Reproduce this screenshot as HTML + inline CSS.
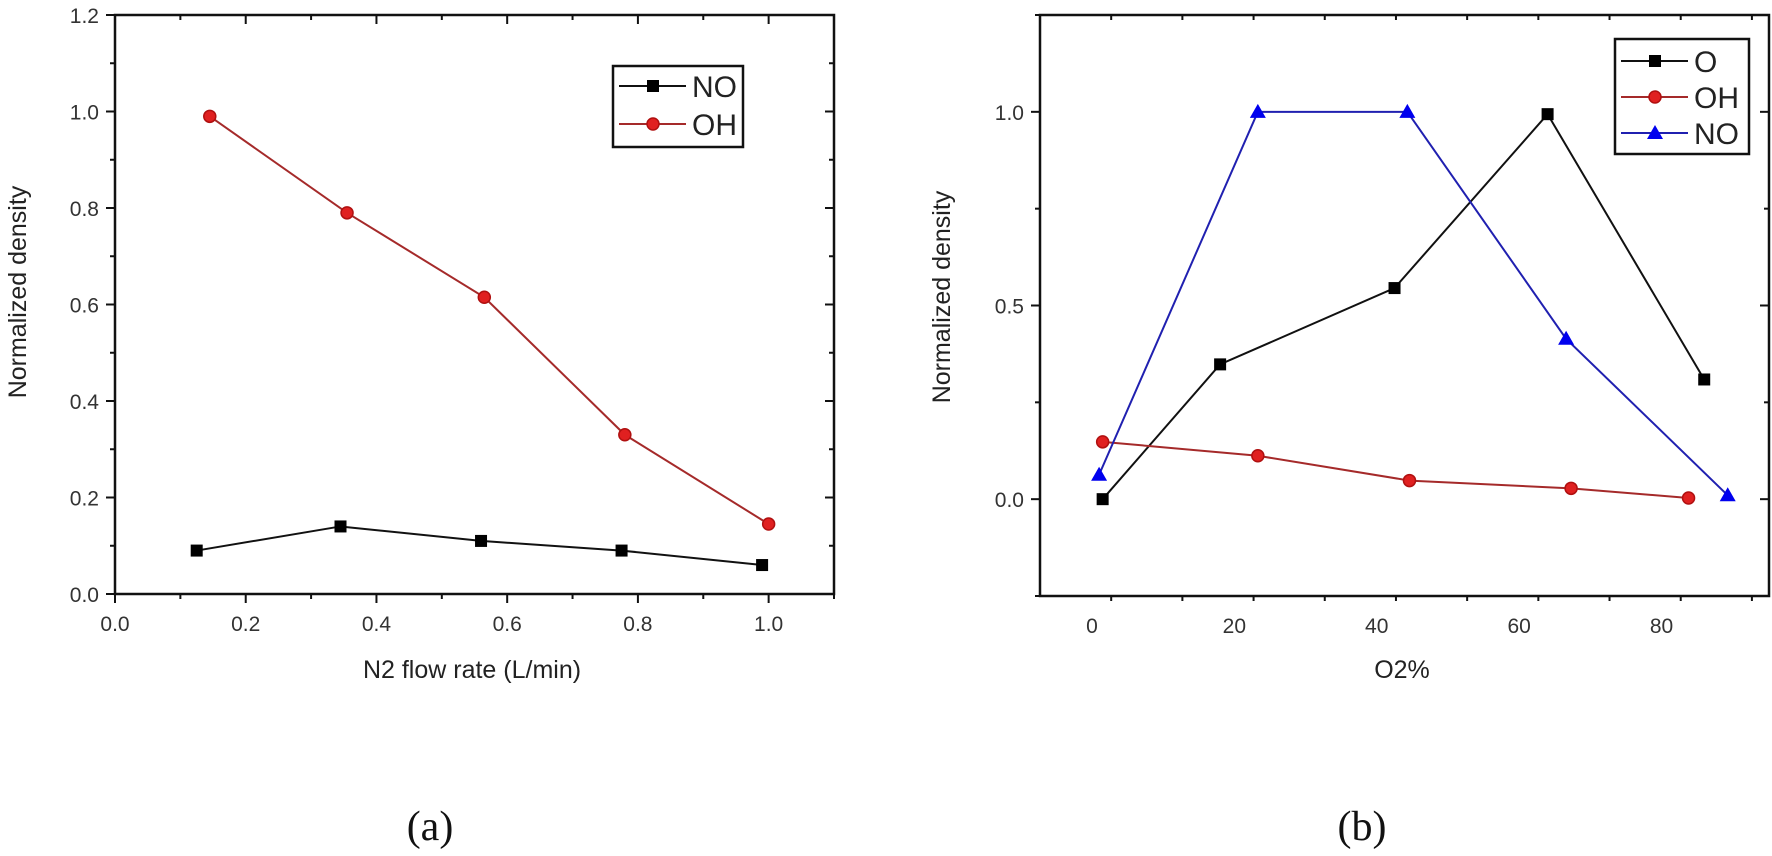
<!DOCTYPE html>
<html><head><meta charset="utf-8"><style>
html,body{margin:0;padding:0;background:#fff;}
svg{display:block;font-family:"Liberation Sans",sans-serif;}
</style></head><body>
<svg id="fig" width="1772" height="856" viewBox="0 0 1772 856"></svg>
<script>
// Panel (a) data
const aNOx = [0.125, 0.345, 0.56, 0.775, 0.99];
const aNOy = [0.09, 0.14, 0.11, 0.09, 0.06];
const aOHx = [0.145, 0.355, 0.565, 0.78, 1.0];
const aOHy = [0.99, 0.79, 0.615, 0.33, 0.145];
const aXTicks = [0.0, 0.2, 0.4, 0.6, 0.8, 1.0];
const aXTickLabels = ["0.0", "0.2", "0.4", "0.6", "0.8", "1.0"];
const aYTicks = [0.0, 0.2, 0.4, 0.6, 0.8, 1.0, 1.2];
const aYTickLabels = ["0.0", "0.2", "0.4", "0.6", "0.8", "1.0", "1.2"];
// Panel (b) data
const bOx = [1.5, 18, 42.5, 64, 86];
const bOy = [0.0, 0.348, 0.545, 0.994, 0.309];
const bOHx = [1.5, 23.3, 44.6, 67.3, 83.8];
const bOHy = [0.148, 0.112, 0.048, 0.028, 0.003];
const bNOx = [1, 23.3, 44.3, 66.6, 89.3];
const bNOy = [0.063, 1.0, 1.0, 0.414, 0.01];
const bXTicks = [0, 20, 40, 60, 80];
const bXTickLabels = ["0", "20", "40", "60", "80"];
const bYTicks = [0.0, 0.5, 1.0];
const bYTickLabels = ["0.0", "0.5", "1.0"];

const NS = "http://www.w3.org/2000/svg";
const svg = document.getElementById("fig");
function mk(tag, attrs, parent) {
  const e = document.createElementNS(NS, tag);
  for (const k in attrs) e.setAttribute(k, attrs[k]);
  (parent || svg).appendChild(e);
  return e;
}

function panel(cfg) {
  const g = mk("g", {});
  
  
  const L = cfg.L, R = cfg.R, T = cfg.T, B = cfg.B;
  const sx = v => L + (v - cfg.xmin) / (cfg.xmax - cfg.xmin) * (R - L);
  const sy = v => B - (v - cfg.ymin) / (cfg.ymax - cfg.ymin) * (B - T);
  const frame = mk("rect", {x: L, y: T, width: R - L, height: B - T, fill: "none", stroke: "#111", "stroke-width": 2.5}, g);
  
  
  // x ticks
  for (let v = cfg.xmin; v <= cfg.xmax + 1e-9; v += cfg.xminor) {
    const rv = Math.round(v / cfg.xminor);
    const major = rv % 2 === 0 ? (Math.abs(v - Math.round(v / cfg.xmajor) * cfg.xmajor) < 1e-6) : false;
    if (v < cfg.xmin + 1e-9 && cfg.skipFirstX) continue;
    const len = major ? 9 : 5;
    const x = sx(v);
    mk("line", {x1: x, x2: x, y1: B, y2: B + len, stroke: "#111", "stroke-width": 2}, g);
    mk("line", {x1: x, x2: x, y1: T, y2: T + len, stroke: "#111", "stroke-width": 2}, g);
  }
  cfg.xt.forEach((v, i) => {
    const t = mk("text", {x: sx(v), y: B + 37, "text-anchor": "middle", "font-size": 21, fill: "#333"}, g);
    t.textContent = cfg.xtl[i];
    
    
  });
  for (let v = cfg.ymin; v <= cfg.ymax + 1e-9; v += cfg.yminor) {
    const major = Math.abs(v / cfg.ymajor - Math.round(v / cfg.ymajor)) < 1e-6;
    const len = major ? 9 : 5;
    const y = sy(v);
    mk("line", {x1: L - len, x2: L, y1: y, y2: y, stroke: "#111", "stroke-width": 2}, g);
    mk("line", {x1: R - len, x2: R, y1: y, y2: y, stroke: "#111", "stroke-width": 2}, g);
  }
  cfg.yt.forEach((v, i) => {
    const t = mk("text", {x: L - 16, y: sy(v) + 8, "text-anchor": "end", "font-size": 21, fill: "#333"}, g);
    t.textContent = cfg.ytl[i];
    
    
  });
  const xl = mk("text", {x: cfg.xlx, y: 678, "text-anchor": "middle", "font-size": 25, fill: "#222"}, g);
  xl.textContent = cfg.xlabel;
  
  
  const yl = mk("text", {x: 0, y: 0, "text-anchor": "middle", "font-size": 25, fill: "#222", transform: `translate(${cfg.ylx},${cfg.yly}) rotate(-90)`}, g);
  yl.textContent = "Normalized density";
  
  
  const cap = mk("text", {x: cfg.capx, y: 840, "text-anchor": "middle", "font-size": 42, "font-family": "Liberation Serif, serif", fill: "#111"}, g);
  cap.textContent = cfg.caption;
  
  
  cfg.series.forEach(s => {
    const sg = mk("g", {}, g);
    
    
    const pts = s.x.map((v, i) => sx(v) + "," + sy(s.y[i])).join(" ");
    mk("polyline", {points: pts, fill: "none", stroke: s.color, "stroke-width": 2}, sg);
    s.x.forEach((v, i) => marker(sg, s.marker, sx(v), sy(s.y[i]), s.fill));
  });
  // legend
  const lg = mk("g", {}, g);
  
  
  const lb = cfg.legend;
  mk("rect", {x: lb.x, y: lb.y, width: lb.w, height: lb.h, fill: "#fff", stroke: "#111", "stroke-width": 2.5}, lg);
  cfg.series.forEach((s, i) => {
    const y = lb.y + lb.first + i * lb.step;
    const eg = mk("g", {}, lg);
    
    
    mk("line", {x1: lb.x + 6, x2: lb.x + 73, y1: y, y2: y, stroke: s.color, "stroke-width": 2}, eg);
    marker(eg, s.marker, lb.x + 40, y, s.fill);
    const t = mk("text", {x: lb.x + 79, y: y + 11, "font-size": 30, fill: "#222"}, eg);
    t.textContent = s.label;
  });
}
function marker(p, type, x, y, fill) {
  if (type === "sq") mk("rect", {x: x - 6, y: y - 6, width: 12, height: 12, fill: "#000"}, p);
  else if (type === "ci") mk("circle", {cx: x, cy: y, r: 6, fill: fill, stroke: "#b01010", "stroke-width": 1.5}, p);
  else mk("polygon", {points: `${x},${y - 8} ${x + 8},${y + 6} ${x - 8},${y + 6}`, fill: "#0000ee"}, p);
}

panel({name: "panel-a", L: 115, R: 834, T: 15, B: 594, xmin: 0, xmax: 1.1, ymin: 0, ymax: 1.2,
  xminor: 0.1, xmajor: 0.2, yminor: 0.1, ymajor: 0.2,
  xt: aXTicks, xtl: aXTickLabels, yt: aYTicks, ytl: aYTickLabels,
  xlabel: "N2 flow rate (L/min)", xlx: 472, ylx: 26, yly: 292, capx: 430, caption: "(a)",
  legend: {x: 613, y: 66, w: 130, h: 81, first: 20, step: 38},
  series: [
    {name: "series-no", label: "NO", x: aNOx, y: aNOy, color: "#111", marker: "sq"},
    {name: "series-oh", label: "OH", x: aOHx, y: aOHy, color: "#a52a2a", marker: "ci", fill: "#e02020"}
  ]});
panel({name: "panel-b", L: 1040, R: 1769, T: 15, B: 596, xmin: -7.3, xmax: 95.1, ymin: -0.25, ymax: 1.25,
  xminor: 10, xmajor: 20, yminor: 0.25, ymajor: 0.5, skipFirstX: true,
  xt: bXTicks, xtl: bXTickLabels, yt: bYTicks, ytl: bYTickLabels,
  xlabel: "O2%", xlx: 1402, ylx: 950, yly: 297, capx: 1362, caption: "(b)",
  legend: {x: 1615, y: 39, w: 134, h: 115, first: 22, step: 36},
  series: [
    {name: "series-o", label: "O", x: bOx, y: bOy, color: "#111", marker: "sq"},
    {name: "series-oh", label: "OH", x: bOHx, y: bOHy, color: "#a52a2a", marker: "ci", fill: "#e02020"},
    {name: "series-no", label: "NO", x: bNOx, y: bNOy, color: "#2020b0", marker: "tri"}
  ]});
</script>
</body></html>
